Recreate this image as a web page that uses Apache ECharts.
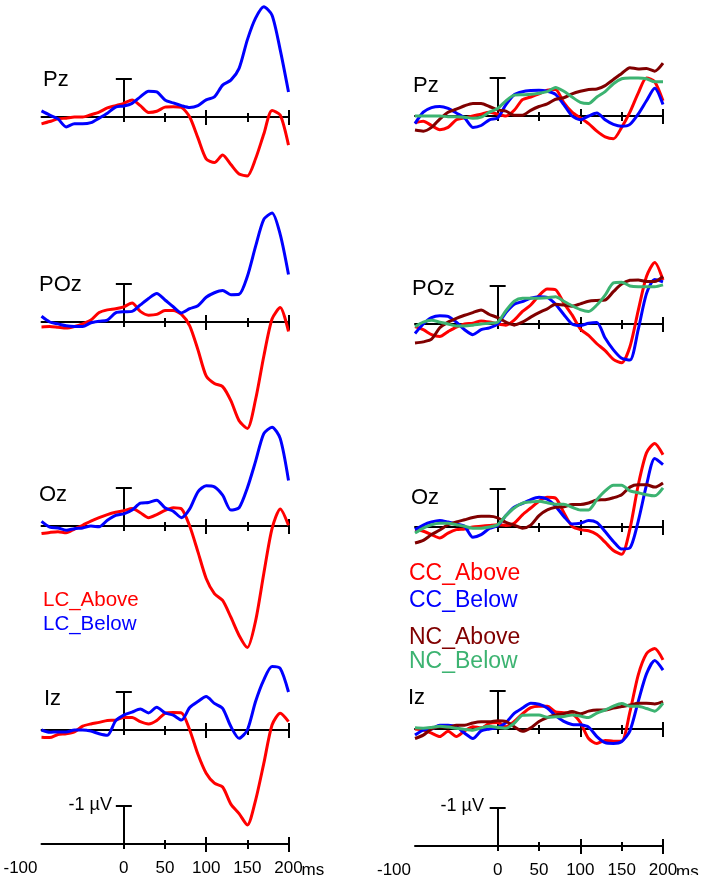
<!DOCTYPE html>
<html>
<head>
<meta charset="utf-8">
<script src="https://cdn.jsdelivr.net/npm/echarts@6/dist/echarts.min.js"></script>
<style>
  html, body { margin: 0; background: #fff; }
  #chart { width: 705px; height: 875px; }
</style>
</head>
<body>
<div id="chart"></div>
<script>
// time points (ms)
const times = [-100, -90, -80, -70, -60, -50, -40, -30, -20, -10, 0, 10, 20, 30, 40, 50, 60, 70, 80, 90, 100, 110, 120, 130, 140, 150, 160, 170, 180, 190, 200];
const channels = ['Pz', 'POz', 'Oz', 'Iz'];
const tickValues = [0, 50, 100, 150, 200];
const scaleLabels = [-100, 0, 50, 100, 150, 200];

// left column (µV, negative up)
const pzLcAbove = [0.18, 0.12, 0.05, 0.03, 0.0, 0.0, -0.06, -0.13, -0.24, -0.3, -0.36, -0.45, -0.3, -0.12, -0.15, -0.26, -0.27, -0.25, 0.0, 0.55, 1.1, 1.2, 1.0, 1.25, 1.5, 1.55, 1.1, 0.45, -0.17, -0.05, 0.74];
const pzLcBelow = [-0.16, -0.05, 0.05, 0.26, 0.18, 0.18, 0.15, 0.03, -0.1, -0.26, -0.29, -0.36, -0.53, -0.68, -0.66, -0.45, -0.37, -0.3, -0.25, -0.3, -0.45, -0.53, -0.84, -0.97, -1.28, -2.03, -2.6, -2.9, -2.68, -1.76, -0.66];
const poLcAbove = [0.13, 0.12, 0.14, 0.16, 0.12, 0.05, -0.05, -0.25, -0.32, -0.35, -0.4, -0.5, -0.28, -0.18, -0.2, -0.3, -0.3, -0.2, 0.1, 0.73, 1.42, 1.62, 1.7, 2.07, 2.6, 2.8, 2.04, 0.9, -0.08, -0.38, 0.25];
const poLcBelow = [-0.15, 0.0, 0.05, 0.1, 0.12, 0.12, 0.02, -0.02, -0.05, -0.24, -0.27, -0.28, -0.45, -0.62, -0.75, -0.58, -0.4, -0.24, -0.35, -0.43, -0.65, -0.77, -0.83, -0.72, -0.73, -1.2, -1.99, -2.7, -2.87, -2.3, -1.25];
const ozLcAbove = [0.2, 0.17, 0.15, 0.18, 0.08, -0.02, -0.13, -0.22, -0.3, -0.36, -0.4, -0.46, -0.35, -0.22, -0.3, -0.41, -0.48, -0.45, 0.0, 0.68, 1.38, 1.78, 1.96, 2.4, 2.88, 3.2, 2.5, 1.25, 0.07, -0.45, -0.02];
const ozLcBelow = [-0.12, 0.03, 0.05, 0.11, 0.07, 0.05, 0.0, 0.02, -0.15, -0.28, -0.32, -0.42, -0.6, -0.62, -0.68, -0.48, -0.39, -0.22, -0.45, -0.9, -1.06, -1.03, -0.81, -0.42, -0.48, -1.0, -1.7, -2.43, -2.6, -2.3, -1.2];
const izLcAbove = [0.19, 0.2, 0.12, 0.1, 0.05, -0.1, -0.16, -0.2, -0.25, -0.26, -0.33, -0.33, -0.22, -0.16, -0.25, -0.44, -0.46, -0.45, 0.0, 0.64, 1.14, 1.4, 1.5, 1.95, 2.2, 2.5, 1.85, 0.88, -0.13, -0.44, -0.22];
const izLcBelow = [0.0, 0.06, 0.05, 0.05, 0.0, 0.0, 0.03, 0.1, 0.14, -0.24, -0.39, -0.47, -0.55, -0.45, -0.6, -0.45, -0.39, -0.26, -0.59, -0.75, -0.88, -0.7, -0.57, -0.09, 0.22, 0.0, -0.75, -1.32, -1.67, -1.62, -1.0];

// right column
const pzCcAbove = [0.18, 0.14, 0.25, 0.36, 0.3, 0.1, 0.05, 0.0, -0.05, -0.1, -0.05, 0.0, -0.15, -0.43, -0.5, -0.58, -0.68, -0.7, -0.35, -0.1, 0.05, 0.2, 0.4, 0.55, 0.6, 0.3, -0.1, -0.6, -1.0, -0.9, -0.4];
const pzCcBelow = [0.2, -0.1, -0.22, -0.25, -0.2, -0.08, 0.05, 0.3, 0.25, 0.1, 0.05, -0.3, -0.56, -0.64, -0.67, -0.68, -0.65, -0.57, -0.3, 0.0, 0.1, 0.0, -0.08, 0.1, 0.22, 0.27, 0.22, -0.05, -0.4, -0.73, -0.3];
const pzNcAbove = [0.37, 0.4, 0.3, 0.08, -0.1, -0.18, -0.27, -0.33, -0.33, -0.25, -0.16, -0.13, -0.02, -0.02, -0.15, -0.25, -0.32, -0.44, -0.48, -0.58, -0.65, -0.7, -0.71, -0.8, -0.96, -1.12, -1.27, -1.24, -1.25, -1.18, -1.39];
const pzNcBelow = [0.0, 0.0, 0.0, 0.0, 0.02, 0.02, 0.03, 0.06, 0.03, -0.1, -0.2, -0.4, -0.55, -0.56, -0.57, -0.6, -0.64, -0.75, -0.65, -0.5, -0.36, -0.33, -0.5, -0.64, -0.85, -0.98, -1.0, -1.0, -0.98, -0.9, -0.9];
const poCcAbove = [0.07, 0.15, 0.28, 0.33, 0.2, 0.08, 0.0, -0.02, -0.08, -0.05, 0.0, 0.03, -0.1, -0.33, -0.5, -0.75, -0.92, -0.9, -0.55, -0.24, 0.13, 0.3, 0.52, 0.7, 0.93, 1.02, 0.6, -0.35, -1.25, -1.62, -1.16];
const poCcBelow = [0.25, 0.0, -0.17, -0.22, -0.2, -0.05, 0.15, 0.28, 0.15, 0.1, 0.0, -0.3, -0.52, -0.59, -0.68, -0.72, -0.7, -0.52, -0.25, 0.0, 0.04, -0.02, -0.04, 0.37, 0.68, 0.9, 0.95, 0.15, -0.8, -1.17, -1.11];
const poNcAbove = [0.5, 0.47, 0.4, 0.1, -0.05, -0.15, -0.23, -0.3, -0.37, -0.25, -0.17, -0.05, 0.03, -0.05, -0.18, -0.3, -0.4, -0.52, -0.5, -0.47, -0.53, -0.6, -0.62, -0.63, -0.85, -1.05, -1.15, -1.16, -1.12, -1.12, -1.25];
const poNcBelow = [0.07, -0.05, -0.1, -0.05, 0.0, 0.05, 0.05, 0.03, 0.0, -0.02, -0.05, -0.35, -0.6, -0.68, -0.68, -0.68, -0.69, -0.72, -0.6, -0.48, -0.38, -0.33, -0.5, -0.76, -1.08, -1.1, -1.0, -0.98, -0.98, -0.98, -1.03];
const ozCcAbove = [0.08, 0.11, 0.2, 0.29, 0.16, 0.07, 0.05, 0.0, -0.02, -0.04, -0.06, -0.04, -0.1, -0.32, -0.5, -0.68, -0.78, -0.76, -0.38, -0.02, 0.07, 0.1, 0.2, 0.4, 0.62, 0.72, 0.05, -1.1, -1.95, -2.2, -1.9];
const ozCcBelow = [0.07, -0.05, -0.13, -0.17, -0.13, -0.08, -0.02, 0.27, 0.2, 0.04, -0.04, -0.3, -0.52, -0.62, -0.72, -0.78, -0.73, -0.55, -0.28, -0.08, -0.1, -0.17, -0.12, 0.12, 0.38, 0.58, 0.55, -0.15, -1.1, -1.8, -1.64];
const ozNcAbove = [0.42, 0.35, 0.2, 0.08, -0.06, -0.13, -0.19, -0.25, -0.28, -0.28, -0.24, -0.12, -0.05, 0.03, -0.05, -0.3, -0.45, -0.52, -0.53, -0.59, -0.59, -0.63, -0.71, -0.72, -0.77, -0.85, -1.05, -1.11, -1.11, -1.05, -1.16];
const ozNcBelow = [0.16, 0.03, -0.06, -0.1, -0.1, -0.06, -0.02, 0.03, 0.03, 0.0, -0.06, -0.3, -0.5, -0.63, -0.66, -0.68, -0.64, -0.6, -0.6, -0.52, -0.45, -0.45, -0.72, -0.95, -1.1, -1.1, -0.95, -0.9, -0.85, -0.82, -1.03];
const izCcAbove = [0.0, 0.03, 0.11, 0.2, 0.06, 0.2, 0.05, -0.06, -0.03, -0.15, -0.17, -0.06, -0.2, -0.4, -0.56, -0.6, -0.6, -0.45, -0.43, -0.4, -0.17, 0.25, 0.38, 0.3, 0.32, 0.32, -0.45, -1.42, -1.98, -2.12, -1.82];
const izCcBelow = [0.16, 0.03, 0.0, -0.1, -0.1, -0.06, 0.11, 0.25, 0.05, 0.0, -0.04, -0.17, -0.41, -0.55, -0.68, -0.65, -0.55, -0.35, -0.2, -0.12, -0.11, -0.05, 0.2, 0.36, 0.38, 0.33, 0.05, -0.72, -1.45, -1.8, -1.55];
const izNcAbove = [0.25, 0.16, 0.0, -0.06, -0.04, -0.1, -0.1, -0.16, -0.19, -0.19, -0.22, -0.2, -0.06, 0.06, -0.03, -0.2, -0.3, -0.37, -0.4, -0.46, -0.4, -0.47, -0.5, -0.5, -0.55, -0.59, -0.63, -0.68, -0.68, -0.66, -0.72];
const izNcBelow = [-0.03, -0.02, -0.04, -0.07, -0.05, -0.02, 0.01, 0.03, -0.03, -0.07, -0.04, -0.02, -0.15, -0.36, -0.37, -0.37, -0.31, -0.32, -0.33, -0.37, -0.34, -0.3, -0.42, -0.5, -0.6, -0.67, -0.6, -0.6, -0.54, -0.47, -0.68];

const RED = '#ff0000', BLUE = '#0000ff', DARKRED = '#800000', GREEN = '#3cb371';
const FONT = '"Liberation Sans", Arial, sans-serif';

// conditions per column, rows follow channels order
const leftSeries = [
  { name: 'LC_Above', color: RED, rows: [pzLcAbove, poLcAbove, ozLcAbove, izLcAbove] },
  { name: 'LC_Below', color: BLUE, rows: [pzLcBelow, poLcBelow, ozLcBelow, izLcBelow] }
];
const rightSeries = [
  { name: 'CC_Above', color: RED, rows: [pzCcAbove, poCcAbove, ozCcAbove, izCcAbove] },
  { name: 'CC_Below', color: BLUE, rows: [pzCcBelow, poCcBelow, ozCcBelow, izCcBelow] },
  { name: 'NC_Above', color: DARKRED, rows: [pzNcAbove, poNcAbove, ozNcAbove, izNcAbove] },
  { name: 'NC_Below', color: GREEN, rows: [pzNcBelow, poNcBelow, ozNcBelow, izNcBelow] }
];

// layout: x extent of each column and zero line of each row (last = scale bar)
const columns = [
  { left: 41.5, width: 247, base: [117, 322, 526, 730, 844], labels: [[43, 80], [39, 285], [39, 495], [44, 699]],
    unit: [112, 805], series: leftSeries },
  { left: 415, width: 248, base: [116, 324, 527, 729, 846], labels: [[413, 86], [412, 289], [411, 498], [408, 698]],
    unit: [484, 806], series: rightSeries }
];
const UV = 38; // px per µV

const grid = [], xAxis = [], yAxis = [], series = [], graphic = [];
const line = { color: '#000', width: 2 };
const labelText = { fontSize: 17, fontFamily: FONT, color: '#000' };

function addPanel(col, row, isScale) {
  const g = grid.length;
  grid.push({ left: col.left, top: col.base[row] - UV, width: col.width, height: UV, containLabel: false, outerBoundsMode: 'none' });
  const xBase = { gridIndex: g, type: 'value', min: -100, max: 200, position: 'bottom', splitLine: { show: false },
    axisLine: { show: false, onZero: false, lineStyle: line }, axisLabel: { show: false } };
  const xi = xAxis.length;
  xAxis.push(Object.assign({}, xBase, {
    axisLine: { show: true, onZero: false, lineStyle: line },
    axisTick: { show: true, customValues: [0, 50, 150], length: 5, lineStyle: line },
    axisLabel: isScale ? Object.assign({
      show: true, customValues: scaleLabels, margin: 16, alignMinLabel: 'right',
      formatter: v => v === scaleLabels[0] ? '{m|' + v + '}' : String(v),
      rich: { m: Object.assign({ padding: [0, 4, 0, 0] }, labelText) }
    }, labelText) : { show: false },
    name: isScale ? 'ms' : '', nameLocation: 'end', nameGap: 13, nameMoveOverlap: false,
    nameTextStyle: Object.assign({ verticalAlign: 'top', padding: [18, 0, 0, 0] }, labelText)
  }));
  xAxis.push(Object.assign({}, xBase, { axisTick: { show: true, customValues: [100, 200], length: 8, lineStyle: line } }));
  xAxis.push(Object.assign({}, xBase, { axisTick: { show: true, inside: true, customValues: [50, 150], length: 4, lineStyle: line } }));
  xAxis.push(Object.assign({}, xBase, { axisTick: { show: true, inside: true, customValues: tickValues.filter(v => v > 0 && v % 100 === 0), length: 7, lineStyle: line } }));
  const yi = yAxis.length;
  const yBase = { gridIndex: g, type: 'value', min: -1, max: 0, interval: 1, inverse: true, position: 'left', splitLine: { show: false },
    axisLine: { show: true, onZero: true, lineStyle: line }, axisLabel: { show: false } };
  yAxis.push(Object.assign({}, yBase, { axisTick: { show: true, customValues: [-1], length: 8, lineStyle: line } }));
  yAxis.push(Object.assign({}, yBase, { axisTick: { show: true, inside: true, customValues: [-1], length: 8, lineStyle: line } }));
  return { xi, yi };
}

columns.forEach(col => {
  channels.forEach((ch, r) => {
    const { xi, yi } = addPanel(col, r, false);
    col.series.forEach(s => {
      series.push({
        type: 'line', name: s.name, xAxisIndex: xi, yAxisIndex: yi,
        data: times.map((t, i) => [t, s.rows[r][i]]),
        showSymbol: false, symbol: 'none', smooth: 0.25, clip: false, silent: true,
        lineStyle: { width: 3, color: s.color }, itemStyle: { color: s.color }
      });
    });
    graphic.push({ type: 'text', x: col.labels[r][0], y: col.labels[r][1],
      style: { text: ch, font: '22px ' + FONT, fill: '#000', verticalAlign: 'middle' } });
  });
  addPanel(col, 4, true);
  graphic.push({ type: 'text', x: col.unit[0], y: col.unit[1],
    style: { text: '-1 µV', font: '18px ' + FONT, fill: '#000', align: 'right', verticalAlign: 'middle' } });
});

function legendItem(s) {
  return { name: s.name, textStyle: { color: s.color } };
}

const option = {
  animation: false,
  backgroundColor: '#fff',
  grid, xAxis, yAxis, series, graphic,
  legend: [
    { data: leftSeries.map(legendItem), orient: 'vertical', left: 33, top: 585, icon: 'none', itemWidth: 0, itemHeight: 10,
      itemGap: 3, selectedMode: false, textStyle: { fontSize: 20.5, fontFamily: FONT } },
    { data: rightSeries.slice(0, 2).map(legendItem), orient: 'vertical', left: 399, top: 557, icon: 'none', itemWidth: 0, itemHeight: 10,
      itemGap: 4, selectedMode: false, textStyle: { fontSize: 23, fontFamily: FONT } },
    { data: rightSeries.slice(2).map(legendItem), orient: 'vertical', left: 399, top: 621, icon: 'none', itemWidth: 0, itemHeight: 10,
      itemGap: 1, selectedMode: false, textStyle: { fontSize: 23, fontFamily: FONT } }
  ]
};

const chart = echarts.init(document.getElementById('chart'), null, { renderer: 'canvas' });
chart.setOption(option);
</script>
</body>
</html>
